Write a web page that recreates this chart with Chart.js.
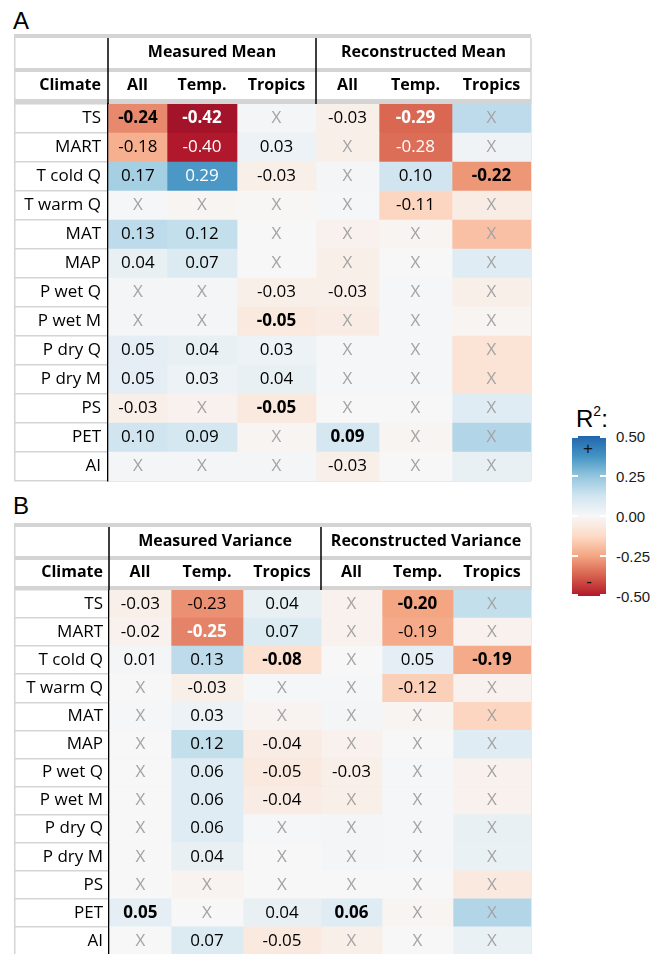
<!DOCTYPE html>
<html>
<head>
<meta charset="utf-8">
<script src="https://cdn.jsdelivr.net/npm/chart.js@4.4.1/dist/chart.umd.min.js"></script>
<style>
  html, body { margin: 0; padding: 0; background: #fff; width: 654px; height: 954px; overflow: hidden; }
  .wrap { position: absolute; left: 0; width: 540px; }
  #wrapA { top: 0; height: 485px; }
  #wrapB { top: 485px; height: 472px; }
  .tag { position: absolute; left: 13px; font: 24px "Liberation Sans", Arial, sans-serif; line-height: 24px; color: #000; }
  #legendTitle { position: absolute; left: 576px; top: 407px; font: 24px "Liberation Sans", Arial, sans-serif; line-height: 24px; color: #000; }
  #legendTitle sup { font-size: 14px; line-height: 0; position: relative; top: -2px; vertical-align: super; }
  #bar { position: absolute; left: 572px; top: 436px; width: 34px; height: 160px; }
  .dash { position: absolute; width: 6px; height: 2px; background: #fff; }
  .tickLab { position: absolute; left: 616px; font: 15px "Liberation Sans", Arial, sans-serif; line-height: 16px; color: #1a1a1a; }
  .sign { position: absolute; font: 17px "Liberation Sans", Arial, sans-serif; line-height: 16px; color: #111; text-align: center; width: 20px; }
</style>
</head>
<body>
<div class="tag" style="top:9px">A</div>
<div class="tag" style="top:494px">B</div>
<div class="wrap" id="wrapA"><canvas id="chartA" width="540" height="485"></canvas></div>
<div class="wrap" id="wrapB"><canvas id="chartB" width="540" height="472"></canvas></div>
<div id="legendTitle">R<sup>2</sup>:</div>
<div id="bar"></div>
<div id="legendTicks"></div>

<script>
// ---- Row and column labels ----
const rowLabels = ['TS', 'MART', 'T cold Q', 'T warm Q', 'MAT', 'MAP', 'P wet Q',
                   'P wet M', 'P dry Q', 'P dry M', 'PS', 'PET', 'AI'];
const colLabels = ['All', 'Temp.', 'Tropics'];
const meanTitles = ['Measured Mean', 'Reconstructed Mean'];
const varTitles = ['Measured Variance', 'Reconstructed Variance'];
const legendTicks = ['0.50', '0.25', '0.00', '-0.25', '-0.50'];

// ---- Signed R² per column (A: means) ----
// sig: 0 = not significant (shown as X), 1 = shown, 2 = shown in bold
const meanMeasAll      = [-0.24, -0.18, 0.17, 0.005, 0.13, 0.04, 0.01, 0.01, 0.05, 0.05, -0.03, 0.10, 0.01];
const meanMeasAllSig   = [2, 1, 1, 0, 1, 1, 0, 0, 1, 1, 1, 1, 0];
const meanMeasTemp     = [-0.42, -0.40, 0.29, -0.01, 0.12, 0.07, 0.01, 0.01, 0.04, 0.03, -0.02, 0.09, 0.01];
const meanMeasTempSig  = [2, 1, 1, 0, 1, 1, 0, 0, 1, 1, 0, 1, 0];
const meanMeasTrop     = [0.01, 0.03, -0.03, -0.005, 0.0, 0.0, -0.03, -0.05, 0.03, 0.04, -0.05, -0.01, 0.01];
const meanMeasTropSig  = [0, 1, 1, 0, 0, 0, 1, 2, 1, 1, 2, 0, 0];
const meanRecAll       = [-0.03, -0.03, 0.01, 0.005, -0.02, -0.03, -0.03, -0.04, 0.005, 0.005, 0.0, 0.09, -0.03];
const meanRecAllSig    = [1, 0, 0, 0, 0, 0, 1, 0, 0, 0, 0, 2, 1];
const meanRecTemp      = [-0.29, -0.28, 0.10, -0.11, -0.01, 0.0, 0.005, 0.005, 0.005, 0.005, 0.0, -0.01, 0.0];
const meanRecTempSig   = [2, 1, 1, 1, 0, 0, 0, 0, 0, 0, 0, 0, 0];
const meanRecTrop      = [0.13, 0.02, -0.22, -0.04, -0.15, 0.06, -0.03, -0.01, -0.07, -0.07, 0.06, 0.15, 0.04];
const meanRecTropSig   = [0, 0, 2, 0, 0, 0, 0, 0, 0, 0, 0, 0, 0];

// ---- Signed R² per column (B: variances) ----
const varMeasAll       = [-0.03, -0.02, 0.01, 0.0, 0.005, 0.0, 0.0, 0.0, 0.0, 0.0, 0.0, 0.05, 0.0];
const varMeasAllSig    = [1, 1, 1, 0, 0, 0, 0, 0, 0, 0, 0, 2, 0];
const varMeasTemp      = [-0.23, -0.25, 0.13, -0.03, 0.03, 0.12, 0.06, 0.06, 0.06, 0.04, -0.015, 0.0, 0.07];
const varMeasTempSig   = [1, 2, 1, 1, 1, 1, 1, 1, 1, 1, 0, 0, 1];
const varMeasTrop      = [0.04, 0.07, -0.08, 0.005, -0.015, -0.04, -0.05, -0.04, 0.005, 0.0, 0.0, 0.04, -0.05];
const varMeasTropSig   = [1, 1, 2, 0, 0, 1, 1, 1, 0, 0, 0, 1, 1];
const varRecAll        = [-0.02, -0.02, 0.0, 0.005, 0.01, -0.02, -0.03, -0.03, 0.01, 0.01, 0.0, 0.06, -0.03];
const varRecAllSig     = [0, 0, 0, 0, 0, 0, 1, 0, 0, 0, 0, 2, 0];
const varRecTemp       = [-0.20, -0.19, 0.05, -0.12, -0.01, 0.0, 0.005, 0.005, 0.005, 0.005, 0.0, -0.01, 0.0];
const varRecTempSig    = [2, 1, 1, 1, 0, 0, 0, 0, 0, 0, 0, 0, 0];
const varRecTrop       = [0.12, -0.02, -0.19, -0.02, -0.11, 0.06, -0.02, -0.02, 0.04, 0.035, -0.05, 0.15, 0.035];
const varRecTropSig    = [0, 0, 2, 0, 0, 0, 0, 0, 0, 0, 0, 0, 0];

// ---- Diverging colour scale (RdBu), -0.5 .. 0.5 ----
const rdbu = ['#67001f', '#b2182b', '#d6604d', '#f4a582', '#fddbc7', '#f7f7f7',
              '#d1e5f0', '#92c5de', '#4393c3', '#2166ac', '#053061'];
function hexRgb(h) { return [1, 3, 5].map(i => parseInt(h.slice(i, i + 2), 16)); }
function rdbuColor(v) {
  const t = Math.max(0, Math.min(1, v + 0.5)) * (rdbu.length - 1);
  const i = Math.min(Math.floor(t), rdbu.length - 2);
  const f = t - i;
  const a = hexRgb(rdbu[i]), b = hexRgb(rdbu[i + 1]);
  const c = a.map((av, k) => Math.round(av + (b[k] - av) * f));
  return `rgb(${c[0]},${c[1]},${c[2]})`;
}

Chart.defaults.font.family = '"Open Sans", sans-serif';
Chart.defaults.color = '#000';

const GRID = '#d4d4d4';
const FONT = '"Open Sans", sans-serif';

function buildPanel(canvasId, titles, columns, lay) {
  const edges = [0];
  lay.widths.forEach(w => edges.push(edges[edges.length - 1] + w));

  const datasets = columns.map((col, j) => ({
    label: colLabels[j % 3],
    data: col.values.map(() => [edges[j], edges[j + 1]]),
    backgroundColor: col.values.map(rdbuColor),
    borderWidth: 0,
    barPercentage: 1,
    categoryPercentage: 1,
    grouped: false
  }));

  const tableDecor = {
    id: 'tableDecor',
    afterDatasetsDraw(chart) {
      const ctx = chart.ctx;
      ctx.save();
      ctx.textAlign = 'center';
      ctx.textBaseline = 'middle';
      chart.data.datasets.forEach((ds, j) => {
        const col = columns[j];
        chart.getDatasetMeta(j).data.forEach((el, i) => {
          const v = col.values[i], s = col.sig[i];
          const cx = (el.x + el.base) / 2;
          if (s === 0) {
            ctx.font = `17px ${FONT}`;
            ctx.fillStyle = '#a3a3a3';
            ctx.fillText('X', cx, el.y);
          } else {
            ctx.font = `${s === 2 ? 'bold ' : ''}17px ${FONT}`;
            ctx.fillStyle = Math.abs(v) >= 0.25 ? '#ffffff' : '#000000';
            ctx.fillText(v.toFixed(2), cx, el.y);
          }
        });
      });
      ctx.restore();
    },
    afterDraw(chart) {
      const { ctx, chartArea } = chart;
      const x = chart.scales.x;
      const left = lay.tableLeft;
      const right = x.getPixelForValue(edges[6]);
      const split0 = x.getPixelForValue(edges[0]);
      const split1 = x.getPixelForValue(edges[3]);
      const headTop = lay.rules[0] + 4;
      ctx.save();
      // horizontal rules
      ctx.fillStyle = GRID;
      lay.rules.forEach(r => ctx.fillRect(left, r, right - left, 4));
      // outer borders
      ctx.strokeStyle = GRID;
      ctx.lineWidth = 1.5;
      ctx.beginPath();
      ctx.moveTo(left + 0.75, headTop); ctx.lineTo(left + 0.75, chartArea.bottom);
      ctx.moveTo(right, headTop); ctx.lineTo(right, chartArea.top);
      ctx.stroke();
      // black group separators in header area
      ctx.strokeStyle = '#000';
      ctx.beginPath();
      ctx.moveTo(split0, headTop); ctx.lineTo(split0, chartArea.top);
      ctx.moveTo(split1, headTop); ctx.lineTo(split1, chartArea.top);
      ctx.stroke();
      // header texts
      ctx.fillStyle = '#000';
      ctx.font = `bold 16px ${FONT}`;
      ctx.textBaseline = 'middle';
      ctx.textAlign = 'center';
      ctx.fillText(titles[0], (split0 + split1) / 2, lay.head1Y);
      ctx.fillText(titles[1], (split1 + right) / 2, lay.head1Y);
      for (let j = 0; j < 6; j++) {
        const cx = (x.getPixelForValue(edges[j]) + x.getPixelForValue(edges[j + 1])) / 2;
        ctx.fillText(colLabels[j % 3], cx, lay.head2Y);
      }
      ctx.textAlign = 'right';
      ctx.fillText('Climate', chartArea.left - lay.labelGap, lay.head2Y);
      ctx.restore();
    }
  };

  return new Chart(document.getElementById(canvasId), {
    type: 'bar',
    data: { labels: rowLabels, datasets },
    options: {
      indexAxis: 'y',
      responsive: false,
      animation: false,
      events: [],
      layout: { padding: { left: lay.tableLeft, right: lay.padRight, top: lay.padTop, bottom: lay.padBottom } },
      plugins: { legend: { display: false }, tooltip: { enabled: false } },
      scales: {
        y: {
          type: 'category',
          offset: true,
          z: 1,
          afterFit(s) { s.width = lay.labelWidth; },
          grid: { offset: true, color: GRID, lineWidth: 1.5, drawTicks: true,
                  tickLength: lay.labelWidth, tickColor: GRID, tickWidth: 1.5 },
          border: { display: true, color: '#000', width: 1.5 },
          ticks: { padding: lay.labelGap - lay.labelWidth, color: '#000', autoSkip: false,
                   font: { size: 17, family: FONT } }
        },
        x: {
          type: 'linear',
          min: 0,
          max: edges[6],
          z: 1,
          afterBuildTicks(s) { s.ticks = edges.map(v => ({ value: v })); },
          afterFit(s) { s.height = 0; },
          grid: {
            drawTicks: false,
            lineWidth: 1.5,
            color: c => (c.tick && (c.tick.value === edges[0] || c.tick.value === edges[3])) ? '#000' : GRID
          },
          border: { display: false },
          ticks: { display: false }
        }
      }
    },
    plugins: [tableDecor]
  });
}

buildPanel('chartA', meanTitles, [
  { values: meanMeasAll, sig: meanMeasAllSig },
  { values: meanMeasTemp, sig: meanMeasTempSig },
  { values: meanMeasTrop, sig: meanMeasTropSig },
  { values: meanRecAll, sig: meanRecAllSig },
  { values: meanRecTemp, sig: meanRecTempSig },
  { values: meanRecTrop, sig: meanRecTropSig }
], {
  widths: [59, 70, 79, 63, 73, 79], tableLeft: 14, labelWidth: 94, labelGap: 7,
  padRight: 9, padTop: 104, padBottom: 4, rules: [34, 68, 99], head1Y: 52, head2Y: 85
});

buildPanel('chartB', varTitles, [
  { values: varMeasAll, sig: varMeasAllSig },
  { values: varMeasTemp, sig: varMeasTempSig },
  { values: varMeasTrop, sig: varMeasTropSig },
  { values: varRecAll, sig: varRecAllSig },
  { values: varRecTemp, sig: varRecTempSig },
  { values: varRecTrop, sig: varRecTropSig }
], {
  widths: [62, 72, 78, 61, 71, 78], tableLeft: 14, labelWidth: 95, labelGap: 6,
  padRight: 9, padTop: 105, padBottom: 2, rules: [38, 71, 101], head1Y: 56, head2Y: 87
});

// ---- Colour bar legend ----
const bar = document.getElementById('bar');
bar.style.background = 'linear-gradient(to bottom, #2166ac 0%, #4393c3 12.5%, #92c5de 25%, #d1e5f0 37.5%, #f7f7f7 50%, #fddbc7 62.5%, #f4a582 75%, #d6604d 87.5%, #b2182b 100%)';
const tickHost = document.getElementById('legendTicks');
legendTicks.forEach((t, i) => {
  const y = 436 + i * 40;
  const lab = document.createElement('div');
  lab.className = 'tickLab';
  lab.style.top = (y - 8 + 1) + 'px';
  lab.textContent = t;
  tickHost.appendChild(lab);
  [572, 600].forEach(xp => {
    const d = document.createElement('div');
    d.className = 'dash';
    d.style.left = xp + 'px';
    d.style.top = (Math.min(Math.max(y - 1, 436), 594)) + 'px';
    tickHost.appendChild(d);
  });
});
const plus = document.createElement('div');
plus.className = 'sign'; plus.style.left = '578px'; plus.style.top = '441px'; plus.textContent = '+';
const minus = document.createElement('div');
minus.className = 'sign'; minus.style.left = '579px'; minus.style.top = '574px'; minus.textContent = '-';
tickHost.appendChild(plus); tickHost.appendChild(minus);
</script>
</body>
</html>
